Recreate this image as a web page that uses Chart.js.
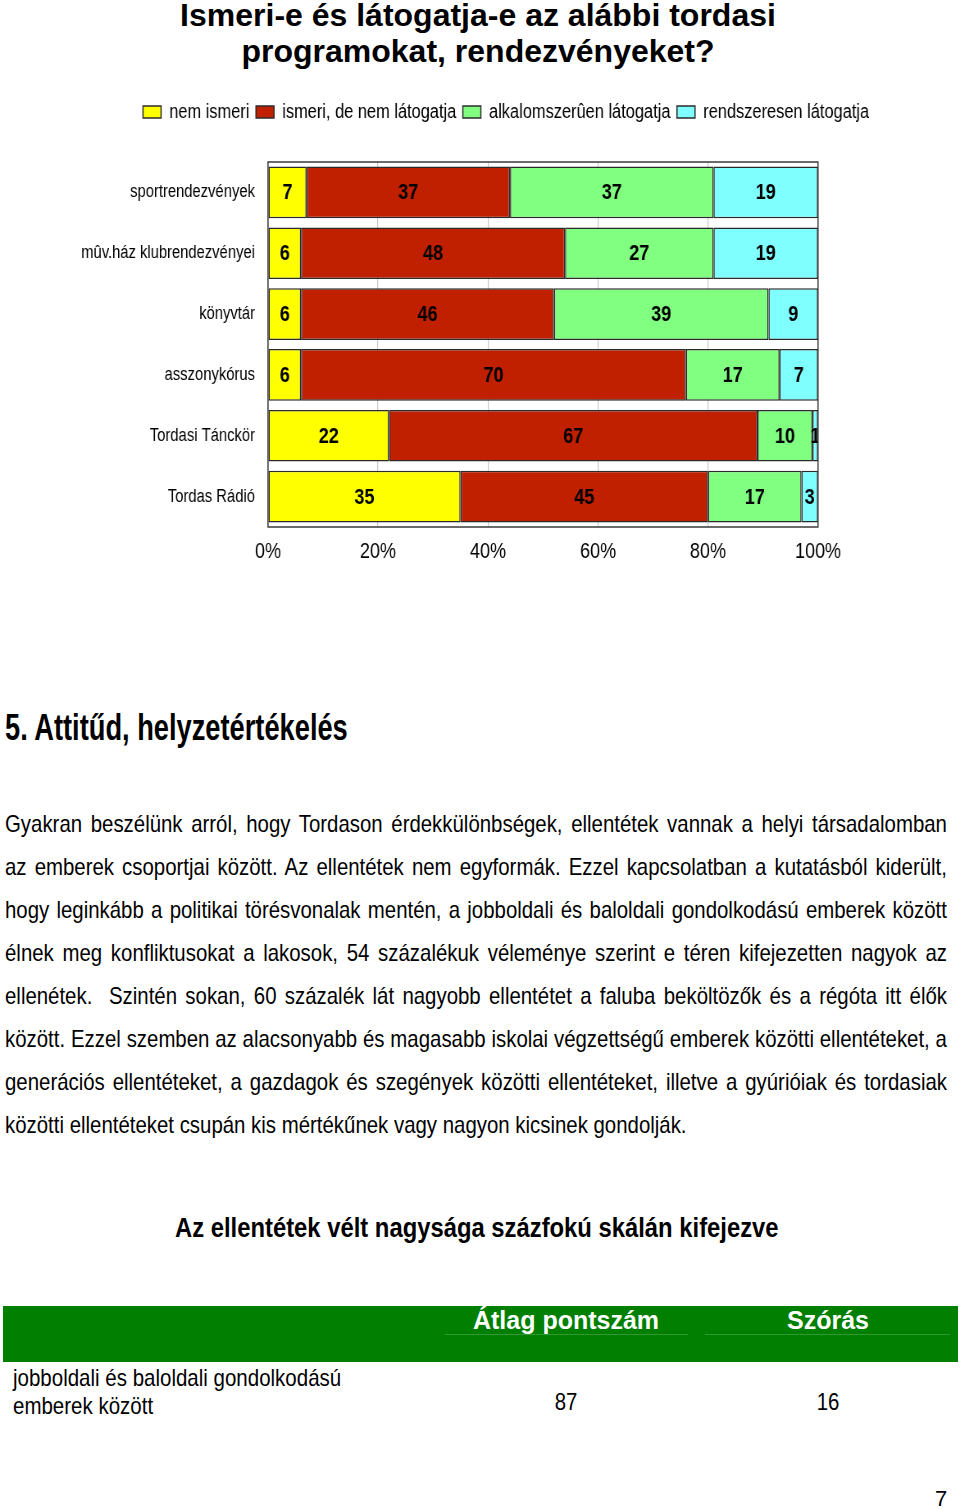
<!DOCTYPE html>
<html><head><meta charset="utf-8">
<script src="https://cdn.jsdelivr.net/npm/chart.js@4"></script>
<style>
html,body{margin:0;padding:0;background:#fff;}
body{width:960px;height:1510px;position:relative;overflow:hidden;font-family:"Liberation Sans",Arial,sans-serif;color:#000;}
.abs{position:absolute;white-space:nowrap;}
.sx{transform-origin:0 0;}
#title{left:0;width:956px;top:-3px;text-align:center;font-weight:bold;font-size:32px;line-height:36px;white-space:normal;}
#chartWrap{position:absolute;left:0;top:90px;width:1171px;height:490px;transform:scaleX(0.819812);transform-origin:0 0;}
#h5{left:5px;top:706px;font-weight:bold;font-size:36px;line-height:44px;transform:scaleX(0.757);}
.pl{position:absolute;left:5px;width:1108.2px;font-size:24px;line-height:43px;text-align:justify;text-align-last:justify;white-space:nowrap;transform:scaleX(0.85);transform-origin:0 0;}
.pl.last{text-align-last:left;}
#sub{left:175px;top:1210px;font-weight:bold;font-size:28px;line-height:36px;transform:scaleX(0.8505);}
#band{position:absolute;left:3px;top:1306px;width:955px;height:56px;background:#007f00;}
.hd{position:absolute;top:1303px;color:#fff;font-weight:bold;font-size:25px;line-height:34px;text-align:center;}
.hl{position:absolute;top:1334px;height:1px;background:#2f9a2f;}
.cell{position:absolute;font-size:24px;line-height:28px;}
.num{transform:scaleX(0.85);transform-origin:50% 0;}
</style></head>
<body>
<div id="title" class="abs">Ismeri-e és látogatja-e az alábbi tordasi<br>programokat, rendezvényeket?</div>
<div id="chartWrap"><canvas id="c" width="1171" height="490"></canvas></div>

<div id="h5" class="abs sx">5. Attitűd, helyzetértékelés</div>

<div class="pl" style="top:802px">Gyakran beszélünk arról, hogy Tordason érdekkülönbségek, ellentétek vannak a helyi társadalomban</div>
<div class="pl" style="top:845px">az emberek csoportjai között. Az ellentétek nem egyformák. Ezzel kapcsolatban a kutatásból kiderült,</div>
<div class="pl" style="top:888px">hogy leginkább a politikai törésvonalak mentén, a jobboldali és baloldali gondolkodású emberek között</div>
<div class="pl" style="top:931px">élnek meg konfliktusokat a lakosok, 54 százalékuk véleménye szerint e téren kifejezetten nagyok az</div>
<div class="pl" style="top:974px">ellenétek.&nbsp; Szintén sokan, 60 százalék lát nagyobb ellentétet a faluba beköltözők és a régóta itt élők</div>
<div class="pl" style="top:1017px">között. Ezzel szemben az alacsonyabb és magasabb iskolai végzettségű emberek közötti ellentéteket, a</div>
<div class="pl" style="top:1060px">generációs ellentéteket, a gazdagok és szegények közötti ellentéteket, illetve a gyúrióiak és tordasiak</div>
<div class="pl last" style="top:1103px">közötti ellentéteket csupán kis mértékűnek vagy nagyon kicsinek gondolják.</div>

<div id="sub" class="abs sx">Az ellentétek vélt nagysága százfokú skálán kifejezve</div>

<div id="band"></div>
<div class="hl" style="left:445px;width:243px"></div>
<div class="hl" style="left:705px;width:245px"></div>
<div class="hd" style="left:446px;width:240px">Átlag pontszám</div>
<div class="hd" style="left:708px;width:240px">Szórás</div>
<div class="cell sx" style="left:13px;top:1364px;transform:scaleX(0.854)">jobboldali és baloldali gondolkodású<br>emberek között</div>
<div class="cell num" style="left:446px;width:240px;text-align:center;top:1388px">87</div>
<div class="cell num" style="left:708px;width:240px;text-align:center;top:1388px">16</div>
<div class="abs" style="left:935px;top:1486px;font-size:22px;line-height:26px">7</div>

<script>
const categories = ["sportrendezvények","mûv.ház klubrendezvényei","könyvtár","asszonykórus","Tordasi Tánckör","Tordas Rádió"];
const seriesNames = ["nem ismeri","ismeri, de nem látogatja","alkalomszerûen látogatja","rendszeresen látogatja"];
const nemIsmeri      = [7, 6, 6, 6, 22, 35];
const nemLatogatja   = [37, 48, 46, 70, 67, 45];
const alkalomszeruen = [37, 27, 39, 17, 10, 17];
const rendszeresen   = [19, 19, 9, 7, 1, 3];
const tickValues = [0, 20, 40, 60, 80, 100];

const FONT = "'Liberation Sans',Arial,sans-serif";
const K = 960 / 1171;               // horizontal compression of the chart canvas (narrow font look)
const colors = ["#ffff00", "#c02000", "#80ff80", "#80ffff"];
const seriesData = [nemIsmeri, nemLatogatja, alkalomszeruen, rendszeresen];

const labelPlugin = {
  id: 'segLabels',
  afterDatasetsDraw(chart) {
    const ctx = chart.ctx, a = chart.chartArea;
    ctx.save();
    ctx.beginPath(); ctx.rect(a.left, a.top, a.right - a.left, a.bottom - a.top); ctx.clip();
    ctx.font = "bold 22px " + FONT;
    ctx.fillStyle = "#000";
    ctx.textAlign = "center"; ctx.textBaseline = "middle";
    chart.data.datasets.forEach((ds, i) => {
      chart.getDatasetMeta(i).data.forEach((el, j) => {
        const x = (el.x + el.base) / 2;
        ctx.fillText(String(ds.data[j]), x, el.y + 1);
      });
    });
    ctx.restore();
  }
};
const framePlugin = {
  id: 'frame',
  afterDatasetsDraw(chart) {
    const ctx = chart.ctx, a = chart.chartArea;
    ctx.save();
    ctx.strokeStyle = "#3a3a3a"; ctx.lineWidth = 1.5;
    ctx.strokeRect(a.left, a.top, a.right - a.left, a.bottom - a.top);
    ctx.restore();
  }
};
const legendPlugin = {
  id: 'legendTune',
  afterInit(chart) {
    const lg = chart.legend;
    if (lg) {
      const orig = lg.fit;
      lg.fit = function() { orig.call(this); this.height = 68; };
    }
  },
  afterLayout(chart) {
    const lg = chart.legend;
    if (!lg || !lg.lineWidths) return;
    const lw = lg.lineWidths[0];
    const pad = lg.options.labels.padding;
    const cx = (lg.left + pad + lg.right - lw) / 2;
    const dx = 143 / K - cx;
    lg.left += dx; lg.right += dx;
  }
};

new Chart(document.getElementById('c'), {
  type: 'bar',
  data: {
    labels: categories,
    datasets: seriesData.map((d, i) => ({
      label: seriesNames[i], data: d,
      backgroundColor: colors[i], borderColor: "#2a2a2a", borderWidth: 1.5,
      borderSkipped: false, barPercentage: 0.85, categoryPercentage: 1.0
    }))
  },
  options: {
    indexAxis: 'y', responsive: false, animation: false, devicePixelRatio: 1,
    layout: { padding: { top: 4, left: 0, right: 1171 - 818 / K, bottom: 0 } },
    plugins: {
      tooltip: { enabled: false },
      legend: {
        position: 'top', align: 'center',
        labels: { boxWidth: 22, boxHeight: 12, padding: 8, color: "#000",
          font: { family: FONT, size: 20 } }
      }
    },
    scales: {
      x: {
        stacked: true, min: 0, max: 100,
        afterBuildTicks(s) { s.ticks = tickValues.map(v => ({ value: v })); },
        afterFit(s) { s.height = 53; },
        grid: { color: "#c8c8c8", drawTicks: false, lineWidth: 1.2 },
        border: { display: false },
        ticks: { color: "#000", padding: 12, font: { family: FONT, size: 22 }, callback: v => v + "%" }
      },
      y: {
        stacked: true,
        afterFit(s) { s.width = 268 / K; },
        grid: { display: false },
        border: { display: false },
        ticks: { color: "#000", padding: 8, font: { family: FONT, size: 18 } }
      }
    }
  },
  plugins: [legendPlugin, labelPlugin, framePlugin]
});
</script>
</body></html>
